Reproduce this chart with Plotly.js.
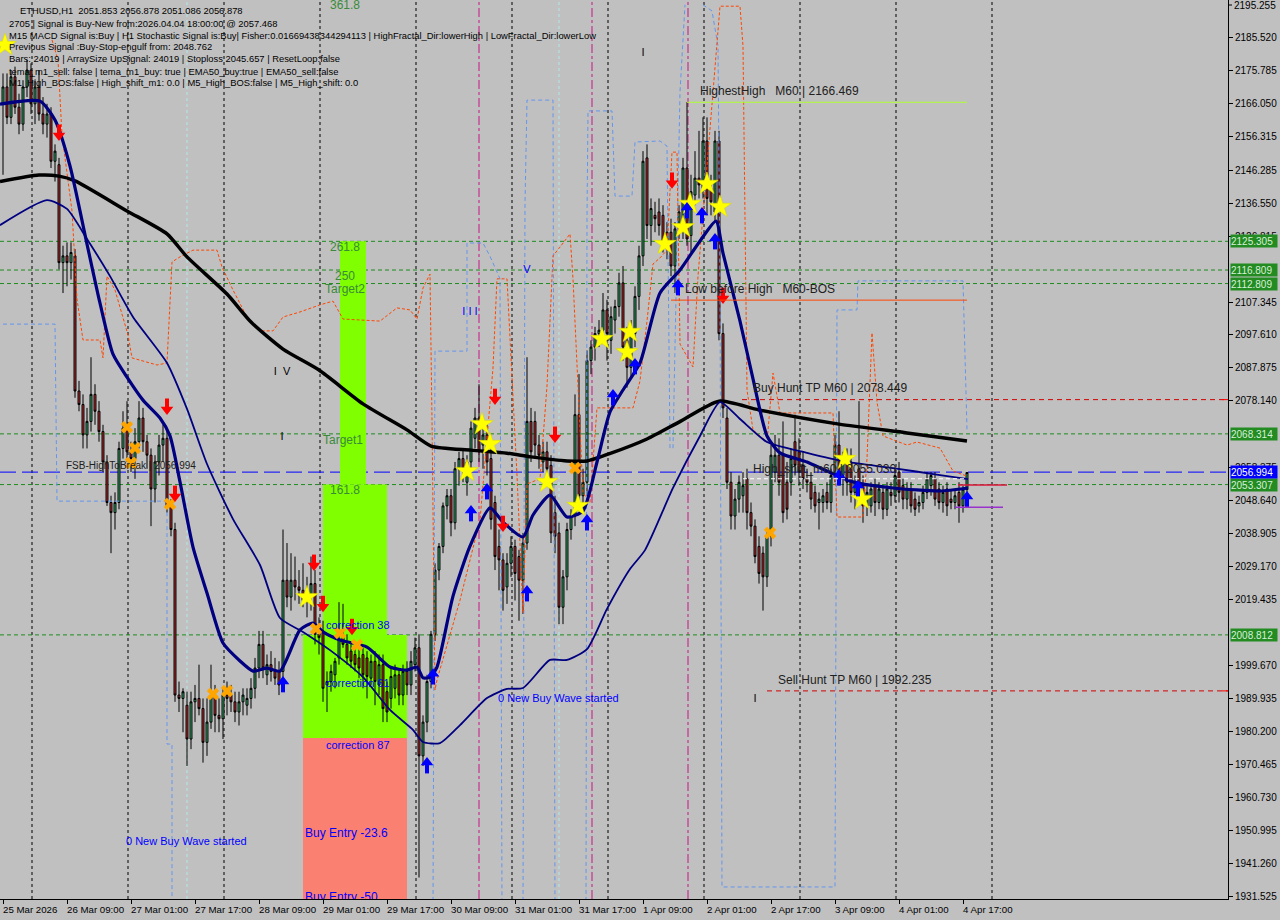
<!DOCTYPE html>
<html><head><meta charset="utf-8">
<script src="https://cdn.plot.ly/plotly-3.0.1.min.js"></script>
<style>html,body{margin:0;padding:0;background:#C0C0C0;}#chart{width:1280px;height:920px;}</style>
</head><body><div id="chart"></div>
<script>
// ---------- time axis ----------
const xTickIdx = [0,16,32,48,64,80,96,112,128,144,160,176,192,208,224,240];
const xTickText = ["25 Mar 2026","26 Mar 09:00","27 Mar 01:00","27 Mar 17:00","28 Mar 09:00","29 Mar 01:00","29 Mar 17:00","30 Mar 09:00","31 Mar 01:00","31 Mar 17:00","1 Apr 09:00","2 Apr 01:00","2 Apr 17:00","3 Apr 09:00","4 Apr 01:00","4 Apr 17:00"];
// ---------- price axis ----------
const yTopLabel = 2195.255;
const yTickVals = [2185.520,2175.785,2166.050,2156.315,2146.285,2136.550,2126.815,2107.345,2097.610,2087.875,2078.140,2058.375,2048.640,2038.905,2029.170,2019.435,1999.670,1989.935,1980.200,1970.465,1960.730,1950.995,1941.260,1931.525];
const yTickText = yTickVals.map(v => v.toFixed(3));

// ---------- ETHUSD H1 candles ----------
const candleOpen = [
2166,2171,2162,2174,2165,2160,2171,2176,2166,2171,
2163,2160,2163,2149,2148,2119,2121,2119,2121,2081,
2077,2068,2072,2080,2075,2069,2060,2048,2045,2048,
2064,2070,2063,2061,2066,2073,2066,2062,2052,2060,
2065,2067,2047,2040,1991,1990,1988,1978,1989,1990,
1987,1977,1983,1991,1985,1984,1991,1991,1989,1986,
1989,1988,1990,1993,1999,2006,1997,2000,1998,1998,
1998,2025,2020,2025,2023,2022,2019,2020,2024,2009,
2010,1994,1995,1997,2002,2008,2006,2004,2003,2002,
2003,2002,1996,2001,1994,2000,1992,1990,1993,1997,
1991,1998,1994,2000,2005,1973,1983,1995,2009,2028,
2035,2047,2050,2042,2058,2061,2054,2060,2067,2073,
2065,2068,2061,2048,2035,2031,2023,2030,2035,2032,
2025,2036,2072,2072,2065,2060,2063,2059,2045,2039,
2017,2026,2040,2044,2074,2050,2054,2090,2094,2098,
2099,2105,2096,2102,2106,2113,2096,2088,2098,2109,
2121,2150,2130,2133,2134,2133,2128,2128,2118,2129,
2129,2147,2127,2139,2144,2141,2155,2141,2134,2155,
2098,2073,2054,2044,2049,2050,2055,2045,2041,2035,
2033,2026,2038,2057,2062,2062,2054,2054,2066,2063,
2059,2055,2054,2051,2048,2048,2051,2048,2056,2065,
2056,2061,2060,2051,2058,2053,2047,2047,2053,2048,
2051,2046,2051,2050,2057,2053,2049,2052,2049,2047,
2048,2051,2053,2055,2052,2048,2052,2049,2048,2051,
2047,2051.853];
const candleHigh = [
2175,2175,2176,2177,2169,2173,2179,2178,2173,2176,
2168,2166,2165,2154,2150,2124,2125,2125,2123,2084,
2080,2076,2091,2083,2078,2071,2062,2050,2051,2066,
2075,2078,2066,2070,2078,2076,2068,2064,2062,2068,
2071,2070,2049,2042,1995,1993,1992,1992,1994,2000,
1990,1990,2000,1994,1990,1993,1995,1994,1992,1992,
1993,1993,1996,2002,2010,2010,2003,2004,2002,2001,
2040,2036,2033,2032,2028,2030,2026,2032,2028,2014,
2013,1998,2000,2002,2018.5,2018,2009,2007,2006,2005,
2005,2004,2003,2004,2003,2003,1995,1999,2000,1999,
2000,2001,2004,2008,2009,1985,1997,2010,2030,2036,
2048,2052,2052,2060,2063,2064,2062,2072,2076,2083,
2073,2072,2064,2050,2040,2033,2033,2038,2037,2034,
2039,2091,2076,2075,2068,2066,2066,2062,2050,2042,
2028,2042,2046,2080,2086,2058,2093,2096,2100,2102,
2110,2108,2106,2108,2116,2118,2100,2102,2112,2124,
2152,2154,2138,2137,2138,2136,2131,2132,2131,2136,
2150,2166.5,2145,2152,2158,2162,2162,2145,2158,2158,
2101,2076,2057,2052,2056,2057,2058,2048,2043,2038,
2035,2040,2065,2068,2067,2072,2060,2064,2074,2067,
2063,2058,2057,2053,2051,2052,2054,2058,2068,2075,
2063,2064,2064,2056,2078,2056,2053,2054,2055,2054,
2053,2054,2054,2058,2060,2055,2054,2054,2051,2050,
2053,2057,2057,2057,2054,2053,2054,2052,2052,2054,
2053,2056.878];
const candleLow = [
2145,2160,2160,2163,2157,2158,2168,2163,2160,2161,
2157,2156,2147,2143,2117,2110,2112,2114,2079,2075,
2064,2064,2069,2071,2066,2057,2047,2033,2040,2046,
2061,2060,2057,2055,2064,2063,2058,2041,2048,2056,
2060,2045,2038,1989,1986,1980,1970,1975,1983,1985,
1971,1973,1981,1980,1980,1978,1985,1986,1983,1982,
1985,1985,1987,1990,1996,1996,1994,1995,1994,1991,
1993,2017,2016,2019,2018,2017,2014,2016,2006,2003,
1989,1986,1992,1993,2000,2005,2000,1999,1998,1996,
1993,1990,1994,1988,1991,1983,1983,1987,1990,1988,
1988,1991,1991,1998,1937,1970,1980,1993,2007,2025,
2033,2043,2038,2040,2053,2054,2050,2058,2064,2060,
2058,2056,2040,2028,2022,2016,2018,2026,2019,2013,
2015,2034,2060,2061,2058,2057,2055,2036,2033,2012,
2012,2022,2037,2041,2046,2046,2050,2086,2090,2094,
2096,2090,2092,2098,2103,2090,2082,2085,2094,2105,
2118,2126,2124,2128,2127,2122,2120,2115,2110,2126,
2126,2124,2122,2136,2138,2138,2133,2133,2131,2096,
2073,2052,2040,2040,2045,2045,2040,2038,2030,2024,
2016,2023,2035,2054,2050,2042,2043,2050,2056,2053,
2052,2051,2046,2045,2040,2045,2046,2045,2054,2053,
2050,2050,2048,2046,2050,2042,2044,2045,2044,2046,
2043,2044,2047,2048,2048,2046,2046,2045,2044,2045,
2046,2049,2050,2047,2046,2045,2044,2046,2046,2042,
2045,2051.086];
const candleClose = [
2171,2162,2174,2165,2160,2171,2176,2166,2171,2163,
2160,2163,2149,2152,2119,2121,2119,2122,2081,2077,
2068,2072,2080,2075,2069,2060,2048,2045,2048,2064,
2070,2063,2061,2066,2073,2066,2062,2052,2060,2065,
2067,2047,2040,1991,1990,1992,1978,1989,1990,1987,
1977,1983,1991,1985,1984,1991,1990,1989,1986,1989,
1991,1990,1993,1999,2006,1999,2000,1998,1996,1994,
2025,2020,2025,2023,2022,2019,2021,2024,2009,2008,
1993,1995,1998,2001,2007.5,2006,2002,2001,2000,1999,
1997,1996.5,2001,1995,2000,1987,1986,1996.5,1997,1991,
1998,1994,2001,2005,1973,1983,1995,2009,2028,2035,
2047,2050,2042,2058,2061,2058,2060,2070,2073,2063,
2068,2060,2043,2032,2031,2022,2030,2035,2027,2025,
2036,2072,2063,2065,2062,2063,2058,2039,2038,2017,
2026,2040,2044,2074,2050,2054,2090,2094,2098,2099,
2105,2098,2103,2106,2113,2094,2088,2098,2109,2121,
2149,2130,2135,2132,2130,2125,2123,2118,2129,2134,
2147,2126,2140,2144,2142,2155,2138,2137,2155,2098,
2076,2054,2044,2049,2054,2053,2045,2041,2032,2027,
2026,2038,2062,2062,2054,2045,2046,2061,2059,2057,
2055,2054,2049,2047,2049,2050,2048,2056,2065,2056,
2061,2054,2051,2054,2053,2047,2051,2052,2048,2052,
2046,2052,2050,2056,2051,2049,2052,2047,2046,2048,
2051,2055,2056,2049,2048,2051,2047,2048,2050,2047,
2051.9,2056.878];
const barIdx = candleOpen.map((_, k) => k);

// ---------- moving averages (read at sample bars) ----------
const maSlowIdx = [-0.75,9,14,18,31,41,46,56,62,70,79,90,101,107,117,126,132,141,146,152,161,169,179,189,209,226,241];
const maSlowVal = [2143.0,2144.9,2144.6,2143.2,2134.3,2127.5,2120.7,2109.7,2101.4,2093.4,2087.2,2077.2,2069.5,2064.7,2063.5,2062.6,2061.5,2060.3,2060.3,2062.6,2066.8,2071.8,2078.0,2075.4,2071.2,2068.6,2066.2];
const emaFastIdx = [-0.75,9.25,13,16.75,21,24.25,27.5,31,35,39.25,41.75,44.25,47.5,51,55,59.25,62.5,66,69.25,74.25,77.5,80,84.25,91,96.75,101,103.5,105,106.75,108.5,112.5,116.75,121.75,125,130,132.5,136.75,141,145,148.5,151.75,155,159.25,164.25,169.25,174.25,178.25,180,184.25,187.5,191,194.25,201,206,212.5,222.5,234.25,241.25];
const emaFastVal = [2165.9,2166.8,2161.2,2147.6,2124.5,2107.0,2091.9,2085.1,2078.3,2073.0,2067.7,2054.1,2034.8,2021.2,2006.4,2001.1,1998.1,1999.0,1998.1,2010.3,2012.3,2009.7,2007.3,2005.2,1999.3,1998.4,1999.3,1996.1,1996.3,1999.3,2020.3,2035.1,2046.4,2042.2,2037.8,2044.3,2050.2,2043.7,2045.5,2060.0,2074.8,2081.3,2089.3,2110.0,2116.8,2125.4,2131.3,2121.8,2101.7,2084.6,2067.7,2062.7,2060.0,2057.3,2054.1,2052.3,2051.4,2052.3];
const emaMidIdx = [-0.75,11,16,21,26.75,32.5,41,46,51,57.5,64.25,69.25,75,81.75,90,96.75,102.5,105,109.25,114.25,121,126,130,136.75,141,146,151,156.75,160.5,167.5,174.25,179.25,184.25,191,201,211,222.5,234.25,241.25];
const emaMidVal = [2130.1,2137.5,2134.9,2126.0,2115.0,2102.9,2089.3,2075.7,2059.4,2043.1,2029.5,2013.8,2009.7,2004.3,1996.3,1986.6,1980.7,1977.1,1976.8,1982.1,1990.1,1992.8,1993.1,2001.4,2001.4,2004.6,2016.5,2028.3,2033.9,2052.3,2067.7,2077.7,2072.7,2065.9,2062.7,2060.0,2058.2,2056.1,2054.9];

// ---------- trailing lines ----------
const trailOrangeIdx = [12.25,13.75,14.75,17.25,18.5,20,24.25,25,26,28,31.25,32.25,38.5,41,42.25,44.25,47.5,53.5,54.75,57.5,61,64.25,67.5,70,74.25,79.25,82.5,85,94.25,98.5,101.75,103.5,105,106.75,107.25,108,108.5,114.25,119.25,122.5,123.5,126,128.5,130,131,134.25,136,137.5,139.25,141.75,142.5,143.5,145,146.75,148.5,157.5,159.25,161,162.5,164.25,166,167.25,168.5,169.25,172.5,173.75,179.25,184.25,185,186,187.5,191,192.5,194.25,207.5,208.5,215,216,217.25,218.5,220,226,228.5,234.25,237.5,241];
const trailOrangeVal = [2184.9,2179.0,2156.8,2134.3,2108.2,2096.1,2096.1,2090.8,2115.0,2110.9,2097.6,2090.8,2088.7,2089.3,2119.2,2120.7,2122.7,2122.7,2117.7,2110.9,2102.9,2098.8,2098.8,2102.9,2104.4,2106.5,2107.6,2102.3,2101.7,2105.6,2105.0,2102.3,2111.5,2115.6,2072.4,1992.5,1995.5,2019.1,2042.8,2087.8,2114.2,2114.2,2056.1,2015.3,2053.5,2055.0,2082.5,2121.0,2123.6,2127.5,2114.2,2087.8,2050.8,2048.1,2076.0,2076.0,2084.0,2101.7,2118.6,2120.4,2122.7,2151.7,2151.7,2094.9,2088.1,2115.0,2194.9,2194.9,2183.1,2081.3,2069.5,2065.9,2086.3,2074.5,2074.5,2043.7,2043.7,2060.9,2098.2,2077.7,2067.7,2065.0,2065.9,2064.1,2057.3,2055.8];
const trailBlueIdx = [0,13,13.5,41,41,42.25,42.25,null,107.5,108,116,116,120,121.75,124.25,124.75,null,130,130.5,131,137.5,138,null,145.75,146,146.25,152.25,153,157.25,158,164.25,166,166.75,167.5,169.25,170.5,null,175,177.25,178.75,179.25,179.75,208,208.5,213.5,213.75,240,241];
const trailBlueVal = [2100.8,2100.8,2048.4,2048.4,1976.5,1976.5,1928,null,1928,2092.8,2092.8,2124.8,2124.8,2120.9,2114.2,1928,null,1928,2136.6,2167.1,2167.1,1928,null,1928,2132.8,2163.9,2163.9,2138.7,2138.7,2154.7,2155.0,2153.5,2064.1,2064.1,2169.5,2195.3,null,2195.3,2193.5,2183.1,2111.8,1934.2,1934.2,2105.0,2105.0,2113.6,2113.6,2069.5];

// ---------- signal markers ----------
const sellArrowIdx = [14,41,43,77.75,80,87.25,123,125,138,167.25,180];
const sellArrowVal = [2157.4,2076.3,2050.5,2030.1,2017.9,2011.1,2079.2,2041.6,2068.0,2143.2,2109.1];
const buyArrowIdx = [70,106,107.5,117,121,131,146,152.5,158,168.75,171,174.75,178,209,213.75,241];
const buyArrowVal = [1994.3,1970.3,1996.6,2044.9,2051.4,2021.2,2042.2,2079.2,2088.4,2111.8,2134.6,2133.1,2125.4,2055.5,2052.3,2049.0];
const starIdx = [0.5,76,116,119.75,121.75,136,143.75,149.75,156,156.75,165.5,170,171.75,176,179.25,210.5,214.75];
const starVal = [2183.4,2020.0,2057.3,2071.2,2065.3,2054.1,2047.0,2096.4,2092.5,2098.5,2124.5,2129.5,2136.4,2142.3,2135.5,2060.9,2049.0];
const crossIdx = [31,33,32,41.75,52.5,56,78.25,84.25,88.5,143,191.75];
const crossVal = [2070.3,2064.1,2059.7,2047.6,1991.3,1992.2,2010.6,2009.4,2005.8,2058.2,2039.0];

// ---------- fibonacci / target zones ----------
const zoneX0 = [84.25,80,75,75];
const zoneX1 = [90.75,96,101,101];
const zoneLow = [2053.307,2008.812,1978.3,1920];
const zoneHigh = [2125.305,2053.307,2008.812,1978.3];
const zoneColor = ["#7FFF00","#7FFF00","#7FFF00","#FA8072"];
const fibText = ["361.8","261.8","250","Target2","Target1","161.8"];
const fibIdx = [85.5,85.5,85.5,85.5,85,85.5];
const fibVal = [2194.9,2123.3,2114.7,2110.9,2066.2,2051.4];
const corrText = ["correction 38","correction 61","correction 87","0 New Buy Wave started","0 New Buy Wave started"];
const corrIdx = [80.75,80.75,80.75,30.75,123.75];
const corrVal = [2011.4,1994.3,1975.9,1947.5,1989.8];
const entryText = ["Buy Entry -23.6","Buy Entry -50"];
const entryIdx = [75.5,75.5];
const entryVal = [1949.9,1931.0];

// ---------- level lines ----------
const greenLevels = [2125.305,2116.809,2112.809,2068.314,2053.307,2008.812];
const blueLevel = 2056.994;
const huntText = ["HighestHigh   M60 | 2166.469","Low before High   M60-BOS","Buy Hunt TP M60 | 2078.449","High_shift_m60 | 2055.030","Sell Hunt TP M60 | 1992.235","FSB-HighToBreak | 2056.994"];
const huntIdx = [174.25,170.5,187.5,187.5,193.75,15.75];
const huntVal = [2169.5,2110.9,2081.6,2057.6,1995.2,2058.8];
const huntSize = [12,12,12,12,12,10];
const gridIdx = [7.25,31.25,55.25,79.25,103.25,127.25,151.25,175.25,199.25,223.25,247.25];
const magentaIdx = [119,147.25,171.25];
const cyanIdx = [46,139];
const glyphText = ["I  V","I","I","I","V","I I I"];
const glyphIdx = [69.75,69.75,160,188,131,116.75];
const glyphVal = [2086.6,2067.4,2181.0,1989.8,2116.8,2104.4];
const glyphColor = ["#000","#000","#000","#000","#0000FF","#0000FF"];

const infoLines = [
 "ETHUSD,H1  2051.853 2056.878 2051.086 2056.878",
 "2705 | Signal is Buy-New from:2026.04.04 18:00:00 @ 2057.468",
 "M15 MACD Signal is:Buy | H1 Stochastic Signal is:Buy| Fisher:0.01669438344294113 | HighFractal_Dir:lowerHigh | LowFractal_Dir:lowerLow",
 "Previous Signal :Buy-Stop-engulf from: 2048.762",
 "Bars: 24019 | ArraySize UpSignal: 24019 | Stoploss 2045.657 | ResetLoop:false",
 "tema_m1_sell: false | tema_m1_buy: true | EMA50_buy:true | EMA50_sell:false",
 "M1_High_BOS:false | High_shift_m1: 0.0 | M5_High_BOS:false | M5_High_shift: 0.0"
];
const infoPx = [[18,10],[7,23],[7,36],[7,47],[7,59],[7,71],[7,83]];

// ================= build =================
const FONT = "Liberation Sans, Arial, sans-serif";
const PW = 1228, PH = 899;
const PX = 0.29599; // price units per pixel (for arrow glyph parts)
const traces = [];
traces.push({type:"candlestick", x:barIdx, open:candleOpen, high:candleHigh, low:candleLow, close:candleClose,
  increasing:{line:{color:"#000",width:1}, fillcolor:"#3CB371"},
  decreasing:{line:{color:"#000",width:1}, fillcolor:"#C03030"},
  whiskerwidth:0, hoverinfo:"skip", showlegend:false});
traces.push({type:"scatter", mode:"lines", x:trailBlueIdx, y:trailBlueVal, line:{color:"#6495ED",width:1,dash:"4px,3px"}, connectgaps:false, hoverinfo:"skip"});
traces.push({type:"scatter", mode:"lines", x:trailOrangeIdx, y:trailOrangeVal, line:{color:"#FF4500",width:1,dash:"3px,2px"}, hoverinfo:"skip"});
traces.push({type:"scatter", mode:"lines", x:maSlowIdx, y:maSlowVal, line:{color:"#000",width:3.5,shape:"spline",smoothing:0.6}, hoverinfo:"skip"});
traces.push({type:"scatter", mode:"lines", x:emaMidIdx, y:emaMidVal, line:{color:"#000080",width:1.8,shape:"spline",smoothing:0.6}, hoverinfo:"skip"});
traces.push({type:"scatter", mode:"lines", x:emaFastIdx, y:emaFastVal, line:{color:"#000080",width:3.2,shape:"spline",smoothing:0.6}, hoverinfo:"skip"});
traces.push({type:"scatter", mode:"markers", x:crossIdx, y:crossVal, marker:{symbol:"x",size:11,color:"#FFA500",line:{width:0}}, hoverinfo:"skip"});
traces.push({type:"scatter", mode:"markers", x:starIdx, y:starVal, marker:{symbol:"star",size:17,color:"#FFFF00",line:{color:"#D8D800",width:0.5}}, hoverinfo:"skip"});
// fat arrows: shaft + head
traces.push({type:"scatter", mode:"markers", x:sellArrowIdx, y:sellArrowVal.map(v => v + 3.5*PX), marker:{symbol:"line-ns",size:7,line:{color:"#FF0000",width:4}}, hoverinfo:"skip"});
traces.push({type:"scatter", mode:"markers", x:sellArrowIdx, y:sellArrowVal.map(v => v - 2.5*PX), marker:{symbol:"triangle-down",size:11,color:"#FF0000",line:{width:0}}, hoverinfo:"skip"});
traces.push({type:"scatter", mode:"markers", x:buyArrowIdx, y:buyArrowVal.map(v => v - 3.5*PX), marker:{symbol:"line-ns",size:7,line:{color:"#0000FF",width:4}}, hoverinfo:"skip"});
traces.push({type:"scatter", mode:"markers", x:buyArrowIdx, y:buyArrowVal.map(v => v + 2.5*PX), marker:{symbol:"triangle-up",size:11,color:"#0000FF",line:{width:0}}, hoverinfo:"skip"});
traces.push({type:"scatter", mode:"text", x:fibIdx, y:fibVal, text:fibText, textposition:"middle center", textfont:{family:FONT,size:12,color:"#3A8A3A"}, hoverinfo:"skip"});
traces.push({type:"scatter", mode:"text", x:corrIdx, y:corrVal, text:corrText, textposition:"middle right", textfont:{family:FONT,size:11,color:"#0000FF"}, hoverinfo:"skip"});
traces.push({type:"scatter", mode:"text", x:entryIdx, y:entryVal, text:entryText, textposition:"middle right", textfont:{family:FONT,size:12,color:"#0000FF"}, hoverinfo:"skip"});
traces.push({type:"scatter", mode:"text", x:huntIdx, y:huntVal, text:huntText, textposition:"middle right", textfont:{family:FONT,size:huntSize,color:"#202020"}, hoverinfo:"skip"});
traces.push({type:"scatter", mode:"text", x:glyphIdx, y:glyphVal, text:glyphText, textposition:"middle center", textfont:{family:FONT,size:11,color:glyphColor}, hoverinfo:"skip"});

const shapes = [];
for (let k = 0; k < zoneX0.length; k++) {
  shapes.push({type:"rect", layer:"below", xref:"x", yref:"y", x0:zoneX0[k], x1:zoneX1[k], y0:zoneLow[k], y1:zoneHigh[k], fillcolor:zoneColor[k], line:{width:0}});
}
gridIdx.forEach(v => shapes.push({type:"line", layer:"below", xref:"x", yref:"paper", x0:v, x1:v, y0:0, y1:1, line:{color:"#000",width:1,dash:"3px,3px"}}));
magentaIdx.forEach(v => shapes.push({type:"line", layer:"below", xref:"x", yref:"paper", x0:v, x1:v, y0:0, y1:1, line:{color:"#C71585",width:1,dash:"dashdot"}}));
cyanIdx.forEach(v => shapes.push({type:"line", layer:"below", xref:"x", yref:"paper", x0:v, x1:v, y0:0, y1:1, line:{color:"#B0E8E8",width:1,dash:"3px,3px"}}));
greenLevels.forEach(v => shapes.push({type:"line", layer:"below", xref:"paper", yref:"y", x0:0, x1:1, y0:v, y1:v, line:{color:"#1E8C1E",width:1,dash:"4px,3px"}}));
shapes.push({type:"line", layer:"below", xref:"paper", yref:"y", x0:0, x1:1, y0:blueLevel, y1:blueLevel, line:{color:"#0000FF",width:1,dash:"16px,6px"}});
// hunt levels
shapes.push({type:"line", xref:"x", yref:"y", x0:171, x1:241, y0:2166.469, y1:2166.469, line:{color:"#ADFF2F",width:1}});
shapes.push({type:"line", xref:"x", yref:"y", x0:167, x1:241, y0:2107.9, y1:2107.9, line:{color:"#FF4500",width:1}});
shapes.push({type:"line", xref:"x", yref:"y", x0:184.75, x1:306.25, y0:2078.449, y1:2078.449, line:{color:"#D00000",width:1,dash:"5px,4px"}});
shapes.push({type:"line", xref:"x", yref:"y", x0:191, x1:306.25, y0:1992.235, y1:1992.235, line:{color:"#D00000",width:1,dash:"5px,4px"}});
shapes.push({type:"line", xref:"x", yref:"y", x0:185, x1:240.5, y0:2055.03, y1:2055.03, line:{color:"#FFFFFF",width:1,dash:"4px,3px"}});
shapes.push({type:"line", xref:"x", yref:"y", x0:238.75, x1:251, y0:2053.2, y1:2053.2, line:{color:"#DC143C",width:1.5}});
shapes.push({type:"line", xref:"x", yref:"y", x0:238, x1:250, y0:2046.6, y1:2046.6, line:{color:"#9932CC",width:1.5}});
// red markers on the price scale
[2078.449,1992.235].forEach(v => shapes.push({type:"line", xref:"paper", yref:"y", x0:1222/PW, x1:1, y0:v, y1:v, line:{color:"#FF0000",width:1}}));
// top price-scale tick mark
shapes.push({type:"line", xref:"paper", yref:"y", x0:1, x1:1232/PW, y0:yTopLabel, y1:yTopLabel, line:{color:"#000",width:1}});

const annotations = [];
xTickIdx.forEach((v,k) => annotations.push({xref:"x", yref:"paper", x:v-0.5, y:0, yshift:-3, xanchor:"left", yanchor:"top", text:xTickText[k], showarrow:false, font:{family:FONT,size:9.7,color:"#000"}}));
infoLines.forEach((t,k) => annotations.push({xref:"paper", yref:"paper", x:infoPx[k][0]/PW, y:1-infoPx[k][1]/PH, xanchor:"left", yanchor:"middle", text:t, showarrow:false, font:{family:FONT,size:9.4,color:"#000"}}));
annotations.push({xref:"paper", yref:"y", x:1233/PW, y:yTopLabel, xanchor:"left", yanchor:"middle", text:yTopLabel.toFixed(3), showarrow:false, borderpad:0, font:{family:FONT,size:10,color:"#000"}});
greenLevels.forEach(v => annotations.push({xref:"paper", yref:"y", x:1230/PW, y:v, xanchor:"left", yanchor:"middle", text:v.toFixed(3), showarrow:false, bgcolor:"#228B22", width:46, height:12, align:"left", borderpad:0, font:{family:FONT,size:10,color:"#D8F0D8"}}));
annotations.push({xref:"paper", yref:"y", x:1230/PW, y:blueLevel, xanchor:"left", yanchor:"middle", text:blueLevel.toFixed(3), showarrow:false, bgcolor:"#0000FF", width:46, height:12, align:"left", borderpad:0, font:{family:FONT,size:10,color:"#FFFFFF"}});

const layout = {
  width:1280, height:920,
  margin:{l:0, r:52, t:0, b:21, pad:0},
  paper_bgcolor:"#C0C0C0", plot_bgcolor:"#C0C0C0",
  showlegend:false,
  xaxis:{range:[-0.75,306.25], showgrid:false, zeroline:false, showline:true, mirror:true, linecolor:"#000", linewidth:1,
         ticks:"outside", ticklen:4, tickcolor:"#000", tickvals:xTickIdx, showticklabels:false, rangeslider:{visible:false}, fixedrange:true},
  yaxis:{side:"right", range:[1930.64,2196.735], showgrid:false, zeroline:false, showline:true, mirror:true, linecolor:"#000", linewidth:1,
         ticks:"outside", ticklen:4, tickcolor:"#000", tickvals:yTickVals, ticktext:yTickText,
         tickfont:{family:FONT,size:10,color:"#000"}, fixedrange:true},
  shapes:shapes, annotations:annotations
};
Plotly.newPlot("chart", traces, layout, {staticPlot:true, displayModeBar:false});
</script></body></html>
